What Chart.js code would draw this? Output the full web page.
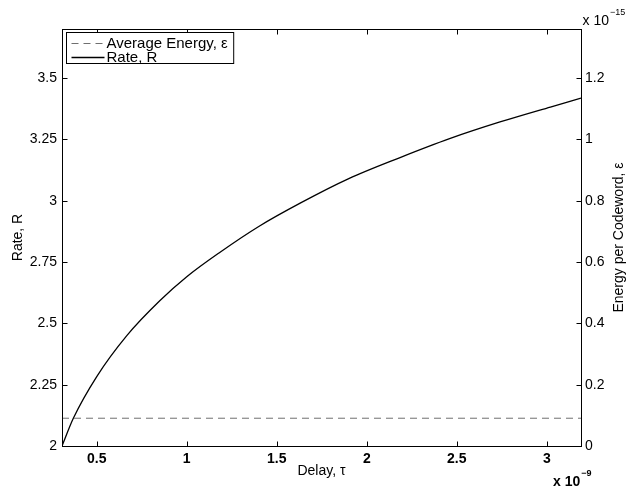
<!DOCTYPE html>
<html>
<head>
<meta charset="utf-8">
<script src="https://cdn.jsdelivr.net/npm/chart.js@4.4.0/dist/chart.umd.min.js"></script>
<style>
body { margin: 0; background: #fff; }
</style>
</head>
<body>
<canvas id="rate-chart" width="629" height="490"></canvas>
<script>
// delay in units of 1e-9, energy in units of 1e-15
var delay = [0.307, 0.37, 0.5, 0.667, 0.85, 1.0, 1.185, 1.4, 1.63, 1.9, 2.185, 2.46, 2.74, 3.02, 3.19];
var rate = [2.0, 2.113, 2.283, 2.45, 2.592, 2.69, 2.79, 2.895, 2.99, 3.09, 3.176, 3.253, 3.321, 3.382, 3.418];
var energyDelay = [0.307, 3.19];
var energy = [0.0906, 0.0906];

var delayTicks = [0.5, 1, 1.5, 2, 2.5, 3];
var rateTicks = [2, 2.25, 2.5, 2.75, 3, 3.25, 3.5];
var energyTicks = [0, 0.2, 0.4, 0.6, 0.8, 1, 1.2];

var delayRange = [0.307, 3.19];
var rateRange = [2, 3.7];
var energyRange = [0, 1.36];

var FONT = '"Liberation Sans", Arial, sans-serif';

function points(xs, ys) {
    var out = [];
    for (var i = 0; i < xs.length; i++) out.push({ x: xs[i], y: ys[i] });
    return out;
}

function fixedTicks(list) {
    return function (scale) {
        scale.ticks = list.map(function (v) { return { value: v }; });
    };
}

// box, inward ticks, right title, exponents and legend, drawn the matlab way
var matlabAxes = {
    id: 'matlabAxes',
    afterDraw: function (chart) {
        var ctx = chart.ctx;
        var a = chart.chartArea;
        var L = Math.round(a.left) + 0.5, R = Math.round(a.right) + 0.5;
        var T = Math.round(a.top) + 0.5, B = Math.round(a.bottom) + 0.5;
        ctx.save();
        ctx.strokeStyle = '#000';
        ctx.lineWidth = 1;
        ctx.strokeRect(L, T, R - L, B - T);

        ctx.beginPath();
        chart.scales.x.ticks.forEach(function (t) {
            var px = Math.round(chart.scales.x.getPixelForValue(t.value)) + 0.5;
            ctx.moveTo(px, B); ctx.lineTo(px, B - 5);
            ctx.moveTo(px, T); ctx.lineTo(px, T + 5);
        });
        chart.scales.y.ticks.forEach(function (t) {
            var py = Math.round(chart.scales.y.getPixelForValue(t.value)) + 0.5;
            ctx.moveTo(L, py); ctx.lineTo(L + 5, py);
        });
        chart.scales.y1.ticks.forEach(function (t) {
            var py = Math.round(chart.scales.y1.getPixelForValue(t.value)) + 0.5;
            ctx.moveTo(R, py); ctx.lineTo(R - 5, py);
        });
        ctx.stroke();

        // right axis title
        ctx.fillStyle = '#000';
        ctx.font = '14px ' + FONT;
        ctx.textAlign = 'center';
        ctx.textBaseline = 'middle';
        ctx.save();
        ctx.translate(619, (a.top + a.bottom) / 2);
        ctx.rotate(-Math.PI / 2);
        ctx.fillText('Energy per Codeword, \u03b5', 0, 0);
        ctx.restore();

        // exponents
        ctx.textAlign = 'left';
        ctx.textBaseline = 'alphabetic';
        ctx.font = '14px ' + FONT;
        ctx.fillText('x 10', R + 1, 25);
        var w = ctx.measureText('x 10').width;
        ctx.font = '9px ' + FONT;
        ctx.fillText('\u221215', R + 2 + w, 15);

        ctx.font = 'bold 14px ' + FONT;
        ctx.fillText('x 10', 553, 486);
        w = ctx.measureText('x 10').width;
        ctx.font = 'bold 9px ' + FONT;
        ctx.fillText('\u22129', 554 + w, 476);

        // legend
        var ds = chart.data.datasets;
        ctx.font = '15px ' + FONT;
        var maxW = 0;
        ds.forEach(function (d) { maxW = Math.max(maxW, ctx.measureText(d.label).width); });
        var bx = Math.round(a.left) + 4.5, by = Math.round(a.top) + 3.5;
        var bw = 41 + maxW + 5, bh = 31;
        ctx.fillStyle = '#fff';
        ctx.fillRect(bx, by, bw, bh);
        ctx.strokeStyle = '#000';
        ctx.strokeRect(bx, by, bw, bh);
        ds.forEach(function (d, i) {
            var cy = by + 10 + i * 14;
            ctx.save();
            ctx.strokeStyle = d.borderColor;
            ctx.lineWidth = d.borderWidth;
            ctx.setLineDash(d.borderDash || []);
            ctx.beginPath();
            ctx.moveTo(bx + 5, Math.round(cy) + 0.5);
            ctx.lineTo(bx + 38, Math.round(cy) + 0.5);
            ctx.stroke();
            ctx.restore();
            ctx.fillStyle = '#000';
            ctx.textBaseline = 'middle';
            ctx.fillText(d.label, bx + 40, cy + 1);
        });
        ctx.restore();
    }
};

new Chart(document.getElementById('rate-chart').getContext('2d'), {
    type: 'line',
    data: {
        datasets: [{
            label: 'Average Energy, \u03b5',
            data: points(energyDelay, energy),
            yAxisID: 'y1',
            borderColor: '#6f6f6f',
            borderWidth: 1,
            borderDash: [7, 5],
            pointRadius: 0,
            fill: false
        }, {
            label: 'Rate, R',
            data: points(delay, rate),
            yAxisID: 'y',
            borderColor: '#000000',
            borderWidth: 1.3,
            pointRadius: 0,
            cubicInterpolationMode: 'monotone',
            fill: false
        }]
    },
    options: {
        responsive: false,
        animation: false,
        layout: { padding: { top: 29, left: 0, right: 0, bottom: 0 } },
        plugins: { legend: { display: false }, tooltip: { enabled: false } },
        scales: {
            x: {
                type: 'linear',
                min: delayRange[0], max: delayRange[1],
                afterBuildTicks: fixedTicks(delayTicks),
                afterFit: function (s) { s.height = 44; },
                grid: { display: false, drawTicks: false },
                border: { display: false },
                ticks: {
                    color: '#000', padding: 5,
                    font: { family: FONT, size: 14, weight: 'bold' },
                    callback: function (v) { return String(v); }
                },
                title: {
                    display: true, text: 'Delay, \u03c4', color: '#000',
                    font: { family: FONT, size: 14 },
                    padding: { top: 0, bottom: 10 }
                }
            },
            y: {
                position: 'left',
                min: rateRange[0], max: rateRange[1],
                afterBuildTicks: fixedTicks(rateTicks),
                afterFit: function (s) { s.width = 62; },
                grid: { display: false, drawTicks: false },
                border: { display: false },
                ticks: {
                    color: '#000', padding: 5,
                    font: { family: FONT, size: 14 },
                    callback: function (v) { return String(v); }
                },
                title: {
                    display: true, text: 'Rate, R', color: '#000',
                    font: { family: FONT, size: 14 },
                    padding: { top: 10, bottom: 0 }
                }
            },
            y1: {
                position: 'right',
                min: energyRange[0], max: energyRange[1],
                afterBuildTicks: fixedTicks(energyTicks),
                afterFit: function (s) { s.width = 48; },
                grid: { display: false, drawTicks: false },
                border: { display: false },
                ticks: {
                    color: '#000', padding: 4,
                    font: { family: FONT, size: 14 },
                    callback: function (v) { return String(v); }
                }
            }
        }
    },
    plugins: [matlabAxes]
});
</script>
</body>
</html>
